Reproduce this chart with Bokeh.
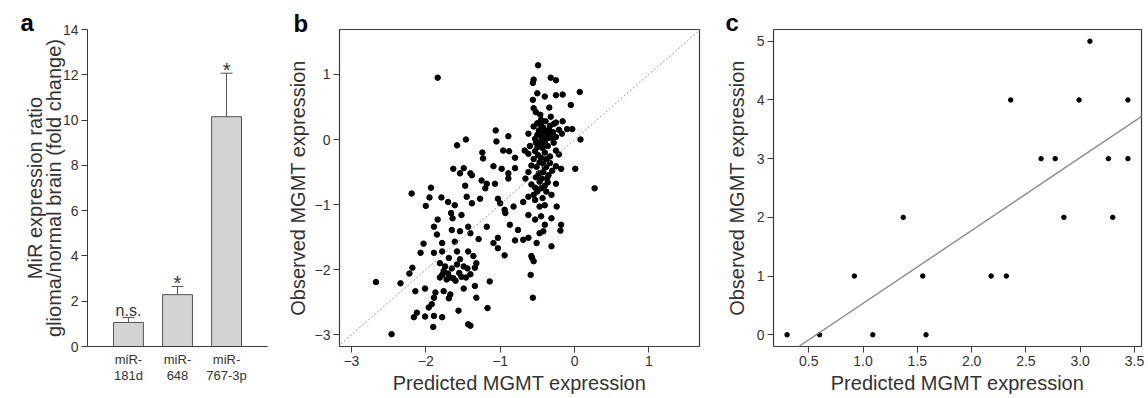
from bokeh.plotting import figure
from bokeh.layouts import row
from bokeh.models import (Range1d, FactorRange, FixedTicker, Slope, Whisker, CategoricalAxis,
                          TeeHead, ColumnDataSource, PrintfTickFormatter, CustomJSTickFormatter)
from bokeh.embed import file_html
from bokeh.resources import INLINE
from bokeh.core.properties import value

FONT = "Liberation Sans"
TXT = "#333333"
LINE = "#3a3a3a"

# ---------------- data ----------------
# panel a
mir_names = ["miR-181d", "miR-648", "miR-767-3p"]
mir_prefix = ["miR-", "miR-", "miR-"]
mir_suffix = ["181d", "648", "767-3p"]
mir_ratio = [1.06, 2.29, 10.15]
mir_err = [0.22, 0.36, 1.92]
mir_sig = ["n.s.", "*", "*"]
a_yticks = [0, 2, 4, 6, 8, 10, 12, 14]

# panel b
pred_b = [
    -0.49, -1.84, -0.55, -0.56, -0.32, -0.25, 0.07, -0.50, -0.40, -0.25, -0.16, -0.56, -0.05, -0.55, -0.34, -0.52,
    -0.39, -0.25, -0.16, -0.45, -0.33, -0.28, -0.21, -0.10, -0.03, -1.06,
    -0.62, -0.50, -0.42, -0.36, -0.29, -0.17, -1.46, -1.05, -0.89, -0.53, -0.45, -0.38, -0.31, -0.25, 0.08,
    -1.58, -1.24, -1.23, -0.96, -0.88, -0.80, -0.67, -0.62, -0.53, -0.49, -0.40, -0.33, -0.25, -0.21,
    -1.63, -1.49, -1.54, -1.40, -1.38, -1.09, -0.98, -0.89, -0.80, -0.51, -0.42, -0.38, -0.25, -0.18, 0.01,
    -1.93, -1.47, -1.25, -1.18, -1.20, -1.07, -0.89, -0.66, -0.58, -0.47, -0.40, -0.53, -0.37, -0.25, 0.27,
    -2.19, -2.00, -1.95, -1.79, -1.70, -1.61, -1.45, -1.38, -1.27, -1.03, -1.00, -0.94, -0.82, -0.69, -0.62, -0.53, -0.47, -0.40, -0.31, -0.24,
    -1.89, -1.84, -1.66, -1.64, -1.52, -1.43, -1.18, -0.93, -0.87, -0.76, -0.62, -0.53, -0.45, -0.40, -0.31, -0.18,
    -2.03, -1.85, -1.78, -1.65, -1.54, -1.40, -1.29, -1.61, -1.09, -1.03, -0.80, -0.69, -0.62, -0.47, -0.51, -0.42, -0.31, -0.19,
    -2.07, -1.89, -1.78, -1.69, -1.58, -1.54, -1.43, -1.36, -1.03, -0.94, -0.57,
    -2.18, -1.81, -1.76, -1.67, -1.58, -1.49, -1.40, -1.34, -1.32, -2.34, -2.22, -1.14, -0.59,
    -2.67, -2.14, -2.01, -1.87, -1.81, -1.72, -1.63, -1.52, -1.49, -1.76, -1.67, -1.34,
    -1.89, -1.92, -1.96, -1.69, -1.32, -0.56, -1.56, -1.17,
    -2.12, -2.16, -1.89, -2.01, -1.78, -1.43, -1.40,
    -2.46, -1.90,
    -0.45, -0.42, -0.38, -0.48, -0.35, -0.44, -0.40, -0.47, -0.36, -0.43, -0.50, -0.38, -0.45, -0.55, -0.42,
    -0.48, -0.35, -0.44, -0.52, -0.30, -0.58, -0.62, -0.45, -0.38, -0.55, -0.33, -0.60, -0.28, -0.55, -0.32,
    -1.78, -1.70, -1.60, -1.55, -1.46, -1.44, -1.65, -1.74,
    -0.50, -0.41, -0.47, -0.40, -0.36, -0.50, -0.43, -0.34, -0.52, -0.46, -0.58, -0.55,
]
obs_b = [
    1.14, 0.95, 0.92, 0.87, 0.95, 0.91, 0.73, 0.71, 0.66, 0.68, 0.69, 0.61, 0.53, 0.48, 0.49, 0.42,
    0.28, 0.26, 0.28, 0.22, 0.21, 0.24, 0.15, 0.16, 0.16, 0.14,
    0.09, 0.07, 0.11, 0.09, 0.11, 0.09, 0.00, -0.03, 0.05, 0.01, -0.02, 0.01, 0.02, 0.04, 0.00,
    -0.09, -0.20, -0.29, -0.17, -0.18, -0.28, -0.17, -0.22, -0.18, -0.24, -0.20, -0.26, -0.17, -0.23,
    -0.45, -0.44, -0.52, -0.52, -0.55, -0.41, -0.45, -0.52, -0.44, -0.42, -0.37, -0.42, -0.41, -0.45, -0.45,
    -0.74, -0.71, -0.63, -0.68, -0.75, -0.68, -0.60, -0.60, -0.69, -0.65, -0.71, -0.74, -0.60, -0.68, -0.75,
    -0.83, -1.02, -0.89, -0.89, -0.96, -1.01, -0.88, -0.98, -0.91, -0.91, -0.98, -1.08, -1.03, -0.96, -0.88, -0.93, -1.03, -1.01, -0.85, -1.03,
    -1.34, -1.23, -1.13, -1.21, -1.16, -1.34, -1.34, -1.13, -1.31, -1.39, -1.16, -1.23, -1.18, -1.31, -1.21, -1.31,
    -1.60, -1.46, -1.59, -1.39, -1.41, -1.44, -1.53, -1.57, -1.59, -1.51, -1.55, -1.54, -1.51, -1.44, -1.59, -1.41, -1.64, -1.40,
    -1.74, -1.74, -1.72, -1.82, -1.72, -1.84, -1.72, -1.79, -1.67, -1.78, -1.82,
    -1.97, -1.90, -2.02, -2.12, -1.92, -1.95, -2.07, -1.97, -1.90, -2.21, -2.06, -2.18, -2.08,
    -2.19, -2.33, -2.29, -2.35, -2.12, -2.15, -2.13, -2.11, -2.29, -2.33, -2.38, -2.25,
    -2.43, -2.53, -2.58, -2.44, -2.43, -2.43, -2.63, -2.59,
    -2.66, -2.73, -2.71, -2.72, -2.73, -2.84, -2.86,
    -2.99, -2.88,
    0.30, 0.18, 0.12, 0.14, 0.04, 0.05, -0.05, -0.08, -0.10, -0.13, -0.12, -0.30, -0.28, -0.30, -0.50,
    -0.52, -0.55, -0.60, -0.58, -0.48, -0.40, -0.50, -0.75, -0.80, -0.85, -0.36, -0.10, -0.05, 0.20, 0.35,
    -2.08, -2.06, -2.17, -2.05, -2.12, -1.98, -1.98, -1.95,
    0.25, 0.00, -0.35, -0.43, -0.66, -0.80, -0.90, 0.15, -0.05, 0.38, -1.79, -1.87,
]
b_ticks = [-3, -2, -1, 0, 1]

# panel c
pred_c = [0.30, 0.60, 0.92, 1.09, 1.37, 1.55, 1.58, 2.18, 2.32, 2.36, 2.64, 2.77, 2.85, 2.99, 3.09, 3.26, 3.30, 3.44, 3.44]
obs_c = [0, 0, 1, 0, 2, 1, 0, 1, 1, 4, 3, 3, 2, 4, 5, 3, 2, 4, 3]
fit_c_intercept = -0.706
fit_c_slope = 1.241
c_xticks = [0.5, 1.0, 1.5, 2.0, 2.5, 3.0, 3.5]
c_yticks = [0, 1, 2, 3, 4, 5]


def style_axis(ax, label_size="20px", tick_size="14px"):
    ax.axis_line_color = None
    ax.major_tick_line_color = LINE
    ax.major_tick_line_width = 1
    ax.major_tick_out = 6
    ax.major_tick_in = 0
    ax.minor_tick_line_color = None
    ax.major_label_standoff = 3
    ax.major_label_text_font = FONT
    ax.major_label_text_font_size = tick_size
    ax.major_label_text_color = TXT
    ax.axis_label_text_font = FONT
    ax.axis_label_text_font_size = label_size
    ax.axis_label_text_font_style = "normal"
    ax.axis_label_text_color = TXT


def base_fig(letter, offset, standoff, **kw):
    p = figure(output_backend="svg", toolbar_location=None, title=letter, **kw)
    p.grid.visible = False
    p.background_fill_color = "white"
    p.border_fill_color = "white"
    t = p.title
    t.align = "left"
    t.offset = offset
    t.standoff = standoff
    t.text_font = FONT
    t.text_font_size = "24px"
    t.text_font_style = "bold"
    t.text_color = "black"
    return p


def cat_formatter(labels):
    return CustomJSTickFormatter(args=dict(names=mir_names, labels=labels),
                                 code="return labels[names.indexOf(tick)];")


H = 396

# ---------------- panel a ----------------
pa = base_fig("a", -67, -12,
              x_range=FactorRange(factors=mir_names, range_padding=0.335,
                                  range_padding_units="absolute"),
              y_range=Range1d(0, 14),
              width=280, height=H,
              min_border_left=87, min_border_right=13,
              min_border_top=29, min_border_bottom=44)
pa.outline_line_color = None
pa.vbar(x=mir_names, top=mir_ratio, width=0.61, bottom=0,
        fill_color="#d3d3d3", line_color="#555555", line_width=1)
err_src = ColumnDataSource(dict(x=mir_names, lower=mir_ratio,
                                upper=[r + e for r, e in zip(mir_ratio, mir_err)],
                                sig=mir_sig,
                                fs=["20px" if s == "*" else "16px" for s in mir_sig],
                                dy=[-3 if s == "*" else -7 for s in mir_sig]))
pa.add_layout(Whisker(base="x", lower="lower", upper="upper", source=err_src,
                      line_color="#555555", line_width=1,
                      upper_head=TeeHead(size=12, line_color="#555555", line_width=1),
                      lower_head=None))
pa.text(x="x", y="upper", text="sig", source=err_src, text_align="center",
        text_baseline="alphabetic", y_offset="dy", text_font=value(FONT),
        text_font_size="fs", text_color=TXT)
style_axis(pa.yaxis[0], label_size="20px", tick_size="14px")
pa.yaxis[0].axis_line_color = LINE
pa.yaxis[0].ticker = FixedTicker(ticks=a_yticks)
pa.yaxis[0].axis_label = "MiR expression ratio\nglioma/normal brain (fold change)"
pa.yaxis[0].axis_label_text_line_height = 0.85
pa.yaxis[0].axis_label_standoff = -5
xa = pa.xaxis[0]
style_axis(xa, tick_size="13px")
xa.axis_line_color = LINE
xa.major_tick_line_color = None
xa.major_tick_out = 0
xa.major_label_standoff = 5
xa.axis_label_standoff = 0
xa.formatter = cat_formatter(mir_prefix)
xa2 = CategoricalAxis()
style_axis(xa2, tick_size="13px")
xa2.major_tick_line_color = None
xa2.major_tick_out = 0
xa2.major_label_standoff = -2
xa2.axis_label_standoff = 0
xa2.formatter = cat_formatter(mir_suffix)
pa.add_layout(xa2, "below")

# ---------------- panel b ----------------
pb = base_fig("b", -46, -15,
              x_range=Range1d(-3.16, 1.68), y_range=Range1d(-3.18, 1.69),
              width=436, height=H,
              min_border_left=59, min_border_right=17,
              min_border_top=29, min_border_bottom=44)
pb.outline_line_color = LINE
pb.outline_line_width = 1.2
pb.add_layout(Slope(gradient=1, y_intercept=0, line_color="#9a9a9a",
                    line_dash="2 2", line_width=1))
pb.scatter(pred_b, obs_b, size=5.5, color="black")
for ax in (pb.xaxis[0], pb.yaxis[0]):
    style_axis(ax)
    ax.ticker = FixedTicker(ticks=b_ticks)
pb.xaxis[0].axis_label = "Predicted MGMT expression"
pb.yaxis[0].axis_label = "Observed MGMT expression"
pb.xaxis[0].axis_label_standoff = 3
pb.yaxis[0].axis_label_standoff = 3

# ---------------- panel c ----------------
pc = base_fig("c", -48, -12,
              x_range=Range1d(0.175, 3.565), y_range=Range1d(-0.2, 5.2),
              width=430, height=H,
              min_border_left=57, min_border_right=5,
              min_border_top=29, min_border_bottom=44)
pc.outline_line_color = LINE
pc.outline_line_width = 1.2
pc.add_layout(Slope(gradient=fit_c_slope, y_intercept=fit_c_intercept,
                    line_color="#8c8c8c", line_width=1.4))
pc.scatter(pred_c, obs_c, size=4.5, color="black")
for ax in (pc.xaxis[0], pc.yaxis[0]):
    style_axis(ax)
pc.xaxis[0].ticker = FixedTicker(ticks=c_xticks)
pc.xaxis[0].formatter = PrintfTickFormatter(format="%.1f")
pc.yaxis[0].ticker = FixedTicker(ticks=c_yticks)
pc.xaxis[0].axis_label = "Predicted MGMT expression"
pc.yaxis[0].axis_label = "Observed MGMT expression"
pc.xaxis[0].axis_label_standoff = 3
pc.yaxis[0].axis_label_standoff = 6

layout = row(pa, pb, pc)
open("out.html", "w").write(file_html(layout, INLINE))
